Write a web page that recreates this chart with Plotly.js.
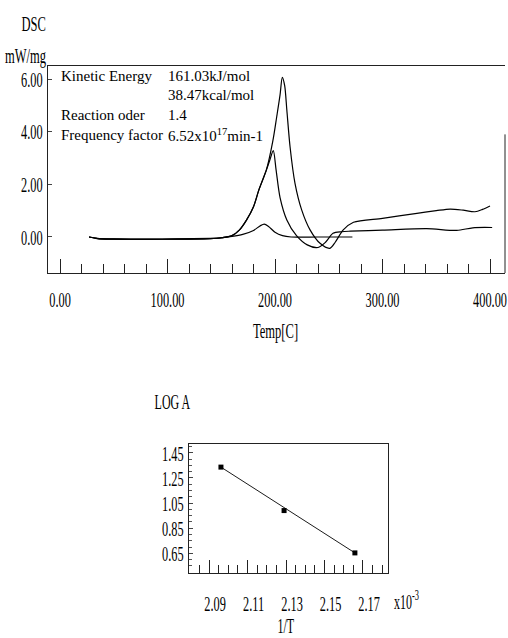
<!DOCTYPE html>
<html>
<head>
<meta charset="utf-8">
<script src="https://cdn.plot.ly/plotly-3.0.1.min.js"></script>
<style>
html,body{margin:0;padding:0;background:#fff;}
#chart{width:508px;height:638px;}
/* condensed tall serif look of the original tick labels (label groups only, not tick marks) */
g.xtick, g.x2tick { transform-box: fill-box; transform-origin: center; transform: scaleX(0.56); }
g.ytick, g.y2tick { transform-box: fill-box; transform-origin: right center; transform: scaleX(0.56); }
</style>
</head>
<body>
<div id="chart"></div>
<script>
// ---- DSC curves (temperature in C, DSC in mW/mg) ----
const tempTall = [27, 35, 50, 80, 110, 140, 150, 160, 167, 173.6, 180, 185, 192, 198, 201.6, 204.7, 206.8, 209, 211, 214, 218.6, 224.8, 232.6, 241.9, 251, 256, 263.5, 273, 300, 332, 350, 363, 375, 386, 393, 400];
const dscTall  = [0.0, -0.06, -0.08, -0.09, -0.08, -0.06, -0.03, 0.05, 0.27, 0.65, 1.15, 1.79, 2.55, 3.65, 4.57, 5.4, 6.07, 5.75, 4.83, 3.43, 2.04, 1.03, 0.27, -0.24, -0.43, -0.2, 0.27, 0.56, 0.71, 0.9, 1.0, 1.06, 1.02, 0.96, 1.05, 1.18];

const tempMid = [27, 35, 50, 80, 110, 140, 150, 160, 167, 173.6, 180, 185, 192, 195, 198.4, 201, 204.7, 211, 220, 230, 240, 247, 254, 262, 270, 300, 341, 369, 384, 402];
const dscMid  = [0.0, -0.06, -0.08, -0.09, -0.08, -0.06, -0.03, 0.05, 0.27, 0.65, 1.15, 1.79, 2.55, 2.9, 3.28, 2.55, 1.5, 0.65, 0.05, -0.3, -0.4, -0.2, 0.14, 0.2, 0.22, 0.26, 0.32, 0.25, 0.35, 0.36];

const tempSmall = [27, 35, 50, 80, 110, 140, 150, 160, 170, 180, 186, 190, 194, 200, 207, 215, 240, 272];
const dscSmall  = [0.0, -0.05, -0.07, -0.08, -0.07, -0.05, -0.03, 0.02, 0.1, 0.25, 0.42, 0.49, 0.4, 0.18, 0.05, 0.0, 0.0, 0.0];

const tempTicks = [0, 100, 200, 300, 400];
const dscTicks = [0, 2, 4, 6];

// ---- Kinetic plot ----
const invT = [2.0962, 2.129, 2.1658];
const logA = [1.336, 0.99, 0.653];
const fitInvT = [2.0962, 2.1658];
const fitLogA = [1.336, 0.653];
const invTTicks = [2.09, 2.11, 2.13, 2.15, 2.17];
const logATicks = [0.65, 0.85, 1.05, 1.25, 1.45];

const infoLabels = ["Kinetic Energy", "", "Reaction oder", "Frequency factor"];
const infoValues = ["161.03kJ/mol", "38.47kcal/mol", "1.4", "6.52x10<sup>17</sup>min-1"];

const W = 508, H = 638;
const px = v => v / W;
const py = v => 1 - v / H;
const FONT = "Liberation Serif, Times New Roman, serif";

const lineStyle = {color: '#000', width: 1.2, shape: 'spline', smoothing: 0.8};
const traces = [
  {x: tempTall, y: dscTall, type: 'scatter', mode: 'lines', line: lineStyle, xaxis: 'x', yaxis: 'y', hoverinfo: 'skip'},
  {x: tempMid, y: dscMid, type: 'scatter', mode: 'lines', line: lineStyle, xaxis: 'x', yaxis: 'y', hoverinfo: 'skip'},
  {x: tempSmall, y: dscSmall, type: 'scatter', mode: 'lines', line: lineStyle, xaxis: 'x', yaxis: 'y', hoverinfo: 'skip'},
  {x: fitInvT, y: fitLogA, type: 'scatter', mode: 'lines', line: {color: '#000', width: 0.9}, xaxis: 'x2', yaxis: 'y2', hoverinfo: 'skip'},
  {x: invT, y: logA, type: 'scatter', mode: 'markers', marker: {symbol: 'square', size: 5, color: '#000'}, xaxis: 'x2', yaxis: 'y2', hoverinfo: 'skip'}
];

const annotations = [];
const condensed = [];
function addText(text, x, y, xanchor, size, squeeze) {
  if (squeeze) condensed.push({i: annotations.length, origin: xanchor === 'right' ? 'right center' : (xanchor === 'left' ? 'left center' : 'center')});
  annotations.push({text: text, x: px(x), y: py(y), xref: 'paper', yref: 'paper', xanchor: xanchor, yanchor: 'middle', showarrow: false, font: {family: FONT, size: size, color: '#000'}});
}
addText('DSC', 48, 23, 'right', 22, true);
addText('mW/mg', 48, 55, 'right', 22, true);
const rowsY = [76, 95, 115, 135];
for (let i = 0; i < infoLabels.length; i++) {
  if (infoLabels[i]) addText(infoLabels[i], 59, rowsY[i], 'left', 15, false);
  addText(infoValues[i], 166, rowsY[i], 'left', 15, false);
}
addText('Temp[C]', 275, 330, 'center', 22, true);
addText('LOG A', 172, 402, 'center', 21, true);
addText('x10<sup>-3</sup>', 392, 600, 'left', 21, true);
addText('1/T', 285, 626, 'center', 21, true);

// squeeze the condensed titles horizontally, like the original typeface
const st = document.createElement('style');
st.textContent = condensed.map(c =>
  '.annotation[data-index="' + c.i + '"] .annotation-text{transform-box:fill-box;transform-origin:' + c.origin + ';transform:scaleX(0.57);}'
).join('\n');
document.head.appendChild(st);

const tickFont = {family: FONT, size: 22, color: '#000'};
const layout = {
  width: W, height: H,
  margin: {l: 0, r: 0, t: 0, b: 0},
  paper_bgcolor: '#fff', plot_bgcolor: '#fff',
  showlegend: false,
  xaxis: {
    domain: [px(48), px(505)], range: [-11.16, 413.95], anchor: 'y',
    showgrid: false, zeroline: false, showline: true, linecolor: '#222', linewidth: 1, mirror: true,
    tickvals: tempTicks, ticktext: tempTicks.map(v => v.toFixed(2)), tickangle: 0,
    ticks: 'inside', ticklen: 14, tickcolor: '#222', tickwidth: 1,
    minor: {dtick: 20, tick0: 0, ticks: 'inside', ticklen: 9, tickcolor: '#222', tickwidth: 1, showgrid: false},
    tickfont: tickFont, ticklabelstandoff: 7, ticklabeloverflow: 'allow'
  },
  yaxis: {
    domain: [py(273), py(66)], range: [-1.369, 6.5], anchor: 'x',
    showgrid: false, zeroline: false, showline: true, linecolor: '#222', linewidth: 1,
    tickvals: dscTicks, ticktext: dscTicks.map(v => v.toFixed(2)), tickangle: 0,
    ticks: 'inside', ticklen: 4, tickcolor: '#444', tickwidth: 1,
    tickfont: tickFont, ticklabelstandoff: 0, ticklabeloverflow: 'allow'
  },
  xaxis2: {
    domain: [px(189), px(388)], range: [2.0796, 2.183], anchor: 'y2',
    showgrid: false, zeroline: false, showline: true, linecolor: '#222', linewidth: 1, mirror: true,
    tickvals: invTTicks, ticktext: invTTicks.map(v => v.toFixed(2)), tickangle: 0,
    ticks: 'inside', ticklen: 13, tickcolor: '#222', tickwidth: 1,
    minor: {dtick: 0.005, tick0: 2.09, ticks: 'inside', ticklen: 8, tickcolor: '#222', tickwidth: 1, showgrid: false},
    tickfont: tickFont, ticklabelstandoff: 11, ticklabelshift: 6, ticklabeloverflow: 'allow'
  },
  yaxis2: {
    domain: [py(573), py(444)], range: [0.493, 1.52], anchor: 'x2',
    showgrid: false, zeroline: false, showline: true, linecolor: '#222', linewidth: 1, mirror: true,
    tickvals: logATicks, ticktext: logATicks.map(v => v.toFixed(2)), tickangle: 0,
    ticks: 'inside', ticklen: 4, tickcolor: '#444', tickwidth: 1,
    minor: {dtick: 0.05, ticks: 'inside', ticklen: 3, tickcolor: '#555', tickwidth: 1, showgrid: false},
    tickfont: tickFont, ticklabelstandoff: 0, ticklabeloverflow: 'allow'
  },
  shapes: [
    {type: 'line', xref: 'paper', yref: 'y', x0: px(505), x1: px(505), y0: -1.369, y1: 3.9, line: {color: '#222', width: 1}}
  ],
  annotations: annotations
};

Plotly.newPlot('chart', traces, layout, {staticPlot: true, displayModeBar: false});
</script>
</body>
</html>
